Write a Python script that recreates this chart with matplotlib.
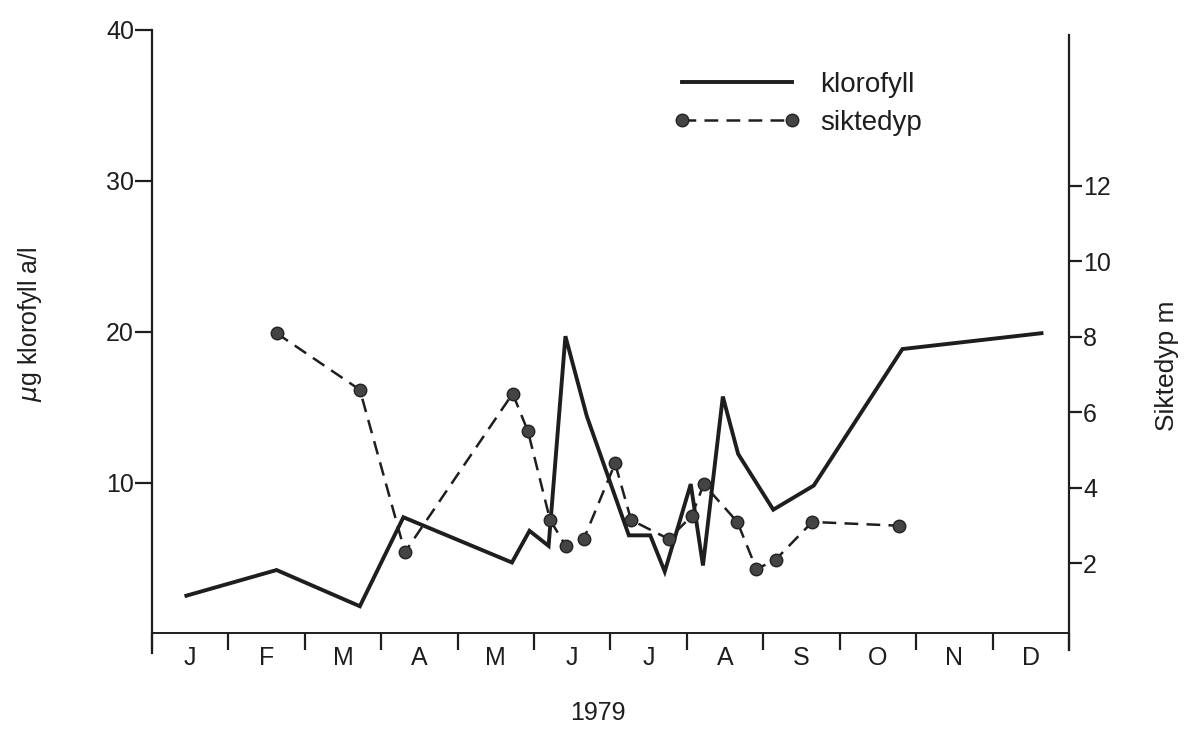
import matplotlib
matplotlib.use("Agg")
import matplotlib.pyplot as plt
from matplotlib.ticker import FixedLocator, NullFormatter

plt.rcParams['font.family'] = ['Liberation Sans', 'DejaVu Sans']

# ---- data ----
months = ["J", "F", "M", "A", "M", "J", "J", "A", "S", "O", "N", "D"]
chl_time = [0.45, 1.63, 2.72, 3.29, 4.71, 4.94, 5.19, 5.41, 5.69, 6.24, 6.52,
            6.71, 7.05, 7.21, 7.47, 7.67, 8.13, 8.66, 9.82, 11.64]
chl_val = [2.5, 4.2, 1.8, 7.7, 4.7, 6.8, 5.8, 19.7, 14.4, 6.5, 6.5,
           4.1, 9.9, 4.5, 15.7, 11.9, 8.2, 9.8, 18.85, 19.9]
sikt_time = [1.63, 2.72, 3.31, 4.72, 4.92, 5.21, 5.42, 5.65, 6.06, 6.27,
             6.76, 7.06, 7.22, 7.66, 7.91, 8.16, 8.64, 9.78]
sikt_val = [8.1, 6.6, 2.3, 6.5, 5.5, 3.15, 2.45, 2.65, 4.65, 3.15,
            2.65, 3.25, 4.1, 3.1, 1.85, 2.1, 3.1, 3.0]
left_ticks = [10, 20, 30, 40]
right_ticks = [2, 4, 6, 8, 10, 12]

W, H = 1187, 734
fig = plt.figure(figsize=(W / 100, H / 100), dpi=100)
ax = fig.add_axes([152 / W, 1 - 653 / H, (1069 - 152) / W, (653 - 30) / H])
ax2 = ax.twinx()

ink = "#1e1e1e"
FS = 18

# chlorophyll line
l1, = ax.plot(chl_time, chl_val, color=ink, lw=2.8, solid_joinstyle='miter',
              label="klorofyll", zorder=3)
# secchi depth
l2, = ax2.plot(sikt_time, sikt_val, color=ink, lw=1.8, ls=(0, (5.5, 3.3)),
               marker='o', ms=9, mfc="#444444", mec="#222222", mew=1.0,
               label="siktedyp", zorder=4)

ax.set_xlim(0, 12)
ax.set_ylim(-1.3, 40)
ax2.set_ylim(-0.371, 16.13)

# spines
for a in (ax, ax2):
    a.patch.set_visible(False)
    a.spines['top'].set_visible(False)
ax.spines['right'].set_visible(False)
ax2.spines['left'].set_visible(False)
ax2.spines['bottom'].set_visible(False)
ax.spines['bottom'].set_position(('data', 0))
ax.spines['left'].set_linewidth(1.6)
ax.spines['bottom'].set_linewidth(1.4)
ax2.spines['right'].set_linewidth(1.6)
ax2.spines['right'].set_bounds(-0.3, 16.0)
for s in ('left', 'bottom'):
    ax.spines[s].set_color(ink)
ax2.spines['right'].set_color(ink)

# x ticks: boundaries (major, unlabeled) and month labels (minor)
ax.xaxis.set_major_locator(FixedLocator(list(range(13))))
ax.xaxis.set_major_formatter(NullFormatter())
ax.xaxis.set_minor_locator(FixedLocator([i + 0.5 for i in range(12)]))
ax.set_xticklabels(months, minor=True)
ax.tick_params(axis='x', which='major', direction='out', length=12, width=1.6, color=ink)
ax.tick_params(axis='x', which='minor', length=0, pad=9, labelsize=FS, labelcolor=ink)

# left y ticks
ax.set_yticks(left_ticks)
ax.tick_params(axis='y', direction='out', length=12, width=1.6, color=ink,
               labelsize=FS, labelcolor=ink, pad=1)

# right y ticks
ax2.set_yticks(right_ticks)
ax2.tick_params(axis='y', direction='out', length=9, width=1.6, color=ink,
                labelsize=FS, labelcolor=ink, pad=1)

# axis labels
fig.text(30 / W, 1 - 324 / H, r"$\mu$g klorofyll a/l", rotation=90,
         ha='center', va='center', fontsize=FS, color=ink)
fig.text(1167 / W, 1 - 366 / H, "Siktedyp m", rotation=90,
         ha='center', va='center', fontsize=19, color=ink)
fig.text(598 / W, 1 - 713 / H, "1979", ha='center', va='center',
         fontsize=FS, color=ink)

# legend
leg = fig.legend(handles=[l1, l2], loc='upper left',
                 bbox_to_anchor=(674 / W, 1 - 72 / H), frameon=False,
                 numpoints=2, handlelength=4.55, handletextpad=0.72,
                 borderpad=0, borderaxespad=0, labelspacing=0.42,
                 fontsize=20)
for t in leg.get_texts():
    t.set_color(ink)

fig.savefig("out.png", dpi=100)
